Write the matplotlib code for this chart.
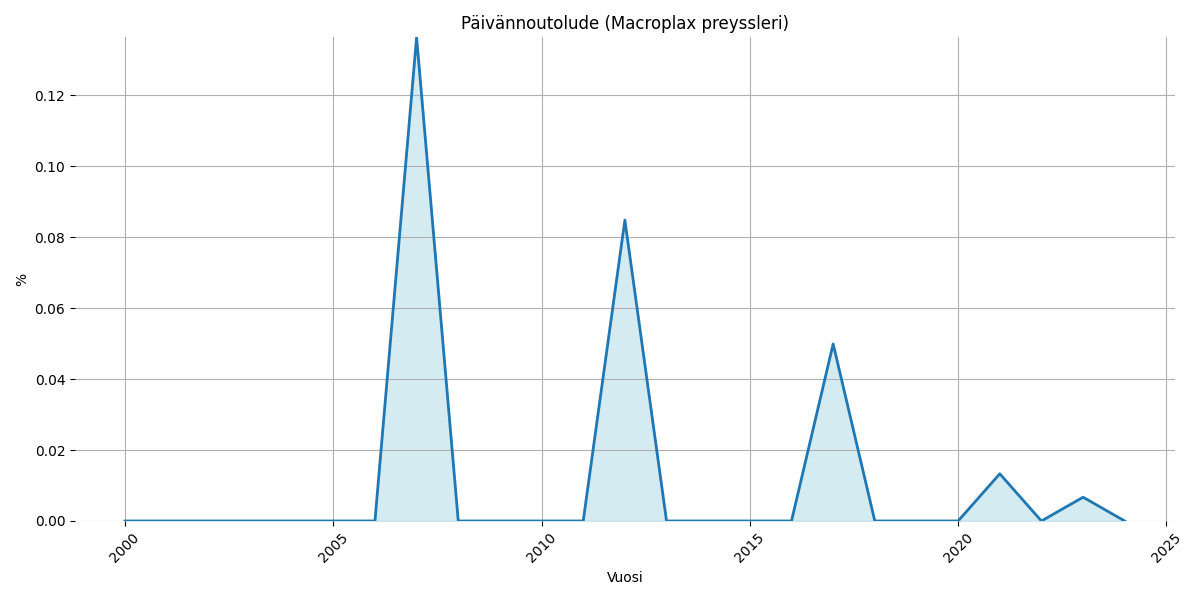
import matplotlib
matplotlib.use('Agg')
import matplotlib.pyplot as plt

# Yearly share (%) of the species
years = list(range(2000, 2025))
share = [0, 0, 0, 0, 0, 0, 0, 0.1363, 0, 0, 0, 0, 0.0848, 0, 0, 0, 0, 0.0499,
         0, 0, 0, 0.0133, 0, 0.0067, 0]

fig, ax = plt.subplots(figsize=(12, 6), dpi=100)

ax.plot(years, share, color='#1f77b4', linewidth=2)
ax.fill_between(years, share, color='lightblue', alpha=0.5)

ax.set_title('Päivännoutolude (Macroplax preyssleri)')
ax.set_xlabel('Vuosi')
ax.set_ylabel('%')
ax.set_ylim(0, max(share))
ax.set_xticks(range(2000, 2026, 5))
ax.tick_params(axis='x', rotation=45)
ax.grid(True)
for s in ax.spines.values():
    s.set_visible(False)

plt.tight_layout()
plt.savefig('out.png')
